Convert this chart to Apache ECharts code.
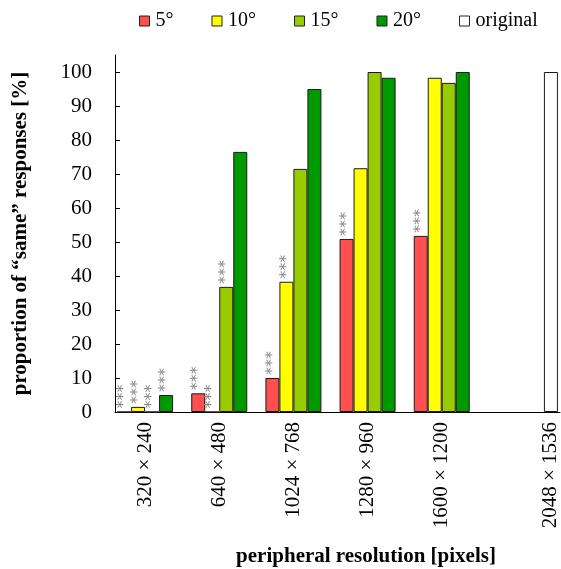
<!DOCTYPE html>
<html>
<head>
<meta charset="utf-8">
<script src="https://cdn.jsdelivr.net/npm/echarts@6/dist/echarts.min.js"></script>
<style>html,body{margin:0;padding:0;background:#fff}#c{width:561px;height:569px}</style>
</head>
<body>
<div id="c"></div>
<script>
var categories = ['320 \u00d7 240', '640 \u00d7 480', '1024 \u00d7 768', '1280 \u00d7 960', '1600 \u00d7 1200', '2048 \u00d7 1536'];
var seriesNames = ['5\u00b0', '10\u00b0', '15\u00b0', '20\u00b0', 'original'];
var vals5 = [0, 5.5, 10, 50.9, 51.8, null];
var vals10 = [1.5, 0, 38.3, 71.7, 98.3, null];
var vals15 = [0, 36.8, 71.5, 100, 96.8, null];
var vals20 = [5, 76.5, 95, 98.3, 100, null];
var valsOrig = [null, null, null, null, null, 100];
var sig5 = [1, 1, 1, 1, 1, 0];
var sig10 = [1, 1, 1, 0, 0, 0];
var sig15 = [1, 1, 0, 0, 0, 0];
var sig20 = [1, 0, 0, 0, 0, 0];
var sigOrig = [0, 0, 0, 0, 0, 0];
var yTicks = [0, 10, 20, 30, 40, 50, 60, 70, 80, 90, 100];
var colors = ['#ff4f4f', '#ffff00', '#99cc00', '#009900', '#ffffff'];

var FONT = 'Liberation Serif';
var gapFrac = 0.056;
var slot = (1 - gapFrac) / 5;
var labelPos = [];
for (var i = 0; i < 5; i++) labelPos.push(i + gapFrac / 2 + 2 * slot);
labelPos.push(5 + gapFrac / 2 + 4.5 * slot);

var allVals = [vals5, vals10, vals15, vals20, valsOrig];
var allSig = [sig5, sig10, sig15, sig20, sigOrig];

var series = allVals.map(function (v, si) {
  return {
    name: seriesNames[si],
    type: 'bar',
    xAxisIndex: 0,
    data: v,
    barGap: '0%',
    barCategoryGap: (gapFrac * 100) + '%',
    itemStyle: { color: colors[si], borderColor: '#1a1a1a', borderWidth: 1 },
    emphasis: { disabled: true },
    label: {
      show: true,
      position: 'top',
      distance: 3,
      rotate: 90,
      align: 'left',
      verticalAlign: 'middle',
      color: '#888888',
      fontFamily: 'DejaVu Sans',
      fontSize: 16,
      formatter: function (p) { return allSig[si][p.dataIndex] ? '***' : ''; }
    }
  };
});

var chart = echarts.init(document.getElementById('c'), null, { renderer: 'canvas' });
chart.setOption({
  animation: false,
  backgroundColor: '#fff',
  legend: {
    data: seriesNames,
    left: 134,
    top: 6,
    itemWidth: 10,
    itemHeight: 10,
    itemGap: 38,
    icon: 'rect',
    itemStyle: { borderColor: '#222', borderWidth: 1 },
    textStyle: { fontFamily: FONT, fontSize: 20, color: '#000', padding: [0, 0, 0, 1] }
  },
  grid: { left: 115, right: 1, top: 55, bottom: 157, containLabel: false, outerBoundsMode: 'none' },
  xAxis: [
    {
      type: 'category',
      data: categories,
      axisLine: { show: true, lineStyle: { color: '#000', width: 1 } },
      axisTick: { show: false },
      axisLabel: { show: false },
      splitLine: { show: false }
    },
    {
      type: 'value',
      position: 'bottom',
      min: 0,
      max: 6,
      axisLine: { show: false },
      axisTick: { show: false },
      splitLine: { show: false },
      name: 'peripheral resolution [pixels]',
      nameLocation: 'middle',
      nameGap: 134,
      nameTextStyle: { fontFamily: FONT, fontSize: 21, fontWeight: 'bold', color: '#000', padding: [0, 0, 0, 57] },
      axisLabel: {
        show: true,
        customValues: labelPos,
        rotate: 90,
        margin: 10,
        fontFamily: FONT,
        fontSize: 21,
        color: '#000',
        formatter: function (v) {
          for (var k = 0; k < labelPos.length; k++) {
            if (Math.abs(labelPos[k] - v) < 1e-6) return categories[k];
          }
          return '';
        }
      }
    }
  ],
  yAxis: {
    type: 'value',
    min: 0,
    max: 105,
    name: 'proportion of \u201csame\u201d responses [%]',
    nameLocation: 'middle',
    nameGap: 84,
    nameTextStyle: { fontFamily: FONT, fontSize: 21, fontWeight: 'bold', color: '#000' },
    axisLine: { show: true, lineStyle: { color: '#000', width: 1 } },
    axisTick: { show: true, inside: true, length: 5, customValues: yTicks, lineStyle: { color: '#000' } },
    axisLabel: { customValues: yTicks, margin: 23, fontFamily: FONT, fontSize: 21, color: '#000' },
    splitLine: { show: false }
  },
  series: series
});
</script>
</body>
</html>
